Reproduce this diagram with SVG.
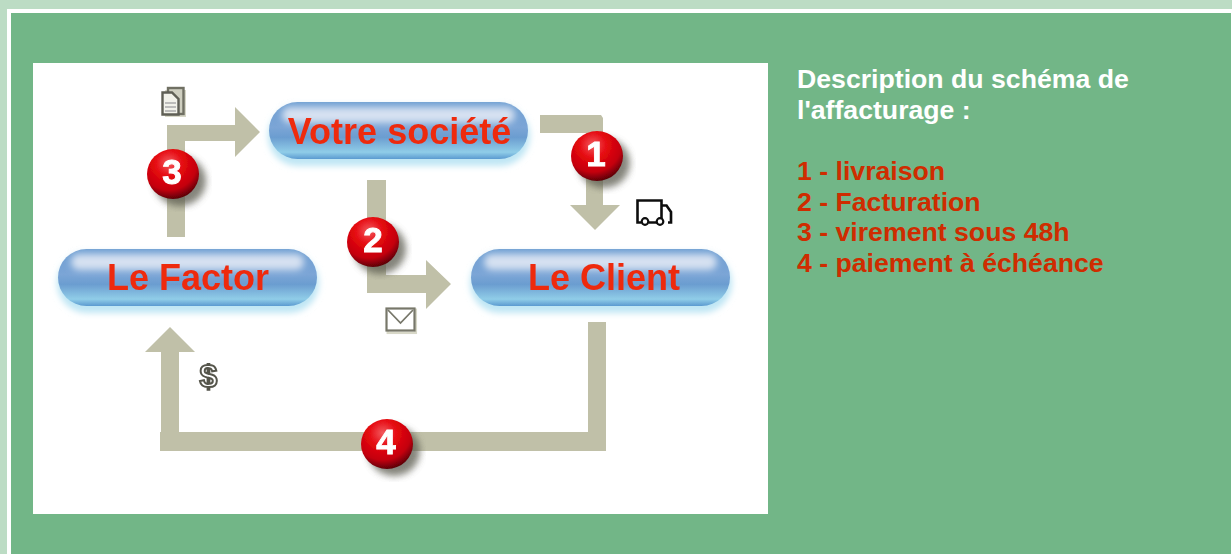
<svg xmlns="http://www.w3.org/2000/svg" width="1232" height="554" viewBox="0 0 1232 554">
<style>
.arrow{fill:#c0c0a8}
.lbl{font-family:"Liberation Sans",Arial,sans-serif;font-weight:bold;font-size:36px;fill:#ee2a10;text-anchor:middle}
.num{font-family:"Liberation Sans",Arial,sans-serif;font-weight:bold;font-size:35px;fill:#fff;stroke:#fff;stroke-width:.9;text-anchor:middle}
.desc{font-family:"Liberation Sans",Arial,sans-serif;font-weight:bold;font-size:26.67px}
.base{fill:url(#pill)}
.halo{fill:#bfe6f4;filter:url(#glow)}
.shine{fill:#d6e1f1;filter:url(#shine)}
</style>
<defs>
<linearGradient id="pill" x1="0" y1="0" x2="0" y2="1">
<stop offset="0" stop-color="#6f9fd2"/>
<stop offset=".45" stop-color="#7ba5d6"/>
<stop offset=".62" stop-color="#6b9dd0"/>
<stop offset=".88" stop-color="#90cde8"/>
<stop offset="1" stop-color="#5b9ad0"/>
</linearGradient>
<radialGradient id="ball" cx=".42" cy=".28" r=".75">
<stop offset="0" stop-color="#f25a5e"/>
<stop offset=".35" stop-color="#e60a12"/>
<stop offset=".72" stop-color="#c40008"/>
<stop offset="1" stop-color="#4e0006"/>
</radialGradient>
<filter id="soft" x="-10%" y="-10%" width="120%" height="120%"><feGaussianBlur stdDeviation=".7"/></filter>
<filter id="glow" x="-20%" y="-40%" width="140%" height="180%"><feGaussianBlur stdDeviation="3"/></filter>
<filter id="shine" x="-10%" y="-80%" width="120%" height="260%"><feGaussianBlur stdDeviation="3.500"/></filter>
<filter id="shade" x="-50%" y="-50%" width="200%" height="200%"><feGaussianBlur stdDeviation="3.500"/></filter>
<g id="badge">
<ellipse cx="7" cy="7" rx="26" ry="25" fill="#5c5c50" opacity=".75" filter="url(#shade)"/>
<ellipse cx="0" cy="0" rx="26" ry="25" fill="url(#ball)"/>
</g>
</defs>
<rect width="1232" height="554" fill="#bcdcc4"/>
<rect x="7" y="9" width="1225" height="545" fill="#fff"/>
<rect x="11" y="13" width="1220" height="541" fill="#72b687"/>
<rect x="33" y="63" width="735" height="451" fill="#fff"/>

<g id="connectors" class="arrow" filter="url(#soft)">
<path d="M167 237V125H235V107L260 132L235 157V141H185V237Z"/>
<path d="M540 115H601L603 118V205H620L595 230L570 205H586V133H540Z"/>
<path d="M367 180H386V275H426V260L451 284L426 309V293H367Z"/>
<path d="M606 322V451H160V432H161V352H145L170 327L195 352H179V432H588V322Z"/>
</g>

<g id="node-societe" filter="url(#soft)">
<rect class="halo" x="268" y="106" width="262" height="60" rx="30"/>
<rect class="base" x="269" y="102" width="259" height="57" rx="28.500"/>
<rect class="shine" x="282" y="107" width="233" height="16" rx="8"/>
<text class="lbl" x="399.500" y="143.500">Votre société</text>
</g>
<g id="node-factor" filter="url(#soft)">
<rect class="halo" x="57" y="253" width="262" height="60" rx="30"/>
<rect class="base" x="58" y="249" width="259" height="57" rx="28.500"/>
<rect class="shine" x="71" y="254" width="233" height="16" rx="8"/>
<text class="lbl" x="188" y="290">Le Factor</text>
</g>
<g id="node-client" filter="url(#soft)">
<rect class="halo" x="470" y="253" width="262" height="60" rx="30"/>
<rect class="base" x="471" y="249" width="259" height="57" rx="28.500"/>
<rect class="shine" x="484" y="254" width="233" height="16" rx="8"/>
<text class="lbl" x="604" y="290">Le Client</text>
</g>

<g id="badge-1" filter="url(#soft)"><use href="#badge" x="597" y="156"/><text class="num" x="596" y="166">1</text></g>
<g id="badge-2" filter="url(#soft)"><use href="#badge" x="373" y="242"/><text class="num" x="373" y="252">2</text></g>
<g id="badge-3" filter="url(#soft)"><use href="#badge" x="173" y="174"/><text class="num" x="172" y="184">3</text></g>
<g id="badge-4" filter="url(#soft)"><use href="#badge" x="387" y="444"/><text class="num" x="386" y="454">4</text></g>

<g id="icon-document" filter="url(#soft)">
<rect x="165" y="90" width="21" height="27" fill="#d8d8c8"/>
<rect x="168" y="88" width="15.500" height="26" fill="#cfcfc0" stroke="#6f6f64" stroke-width="2.400"/>
<path d="M162.500 92.500H172L178.500 99V114.500H162.500Z" fill="#f2f2ea" stroke="#5f5f55" stroke-width="2.400"/>
<path d="M165 103H176M165 107H176M165 111H176" stroke="#aaa" stroke-width="1.400"/>
</g>
<g id="icon-truck" filter="url(#soft)">
<path d="M641 222.500H637.500V200.500H661.500V222.500H649M661.500 205.500H666.500L671 212V222.500H668M661.500 222.500H655" fill="none" stroke="#111" stroke-width="2.600"/>
<circle cx="645" cy="221.500" r="3.300" fill="#fff" stroke="#111" stroke-width="2.200"/>
<circle cx="660" cy="221.500" r="3.300" fill="#fff" stroke="#111" stroke-width="2.200"/>
</g>
<g id="icon-envelope" filter="url(#soft)">
<rect x="387.800" y="309.800" width="28" height="23" fill="#fff" stroke="#d8d8c8" stroke-width="2.500"/>
<rect x="386.500" y="308.500" width="28" height="22" fill="#fff" stroke="#77776a" stroke-width="2.200"/>
<path d="M388 310L400.500 323L413 310" fill="none" stroke="#77776a" stroke-width="1.800"/>
</g>
<g id="icon-dollar" filter="url(#soft)">
<text x="208.500" y="387" text-anchor="middle" font-family="Liberation Sans, Arial, sans-serif" font-weight="bold" font-size="32" fill="#fff" stroke="#55554b" stroke-width="2">$</text>
</g>

<g id="description" class="desc">
<text x="797" y="88" fill="#fff">Description du schéma de</text>
<text x="797" y="119" fill="#fff">l'affacturage :</text>
<g fill="#cf2c00">
<text x="797" y="180">1 - livraison</text>
<text x="797" y="211">2 - Facturation</text>
<text x="797" y="241">3 - virement sous 48h</text>
<text x="797" y="272">4 - paiement à échéance</text>
</g>
</g>
</svg>
